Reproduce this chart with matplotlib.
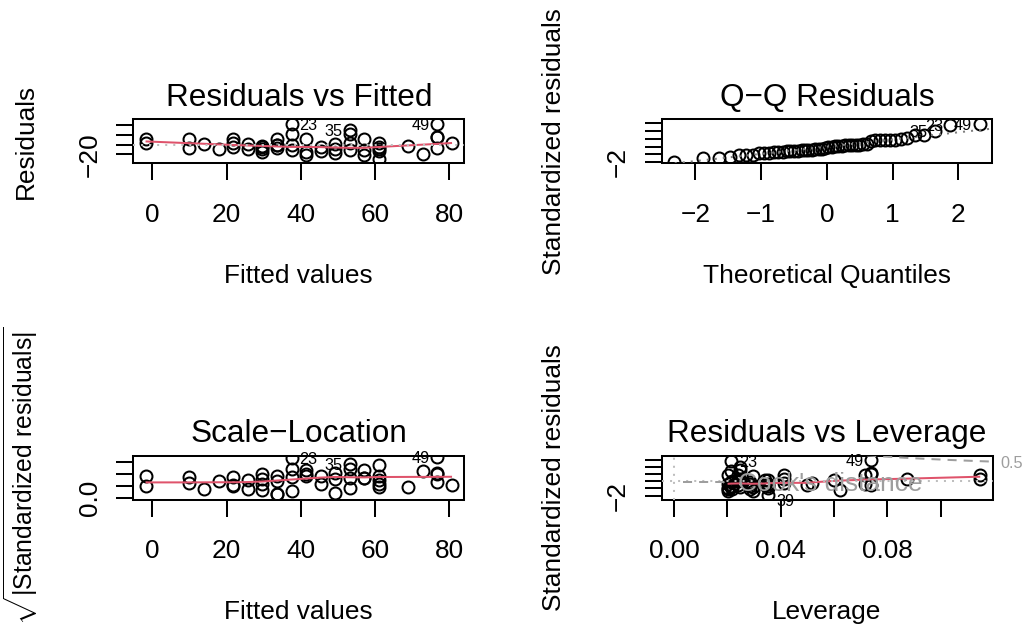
import numpy as np
import matplotlib
matplotlib.use("Agg")
import matplotlib.pyplot as plt
from matplotlib.transforms import blended_transform_factory, ScaledTranslation
from matplotlib.lines import Line2D
from statistics import NormalDist

# ---------------- data (R 'cars' data set, lm(dist ~ speed)) ----------------
speed = [4, 4, 7, 7, 8, 9, 10, 10, 10, 11, 11, 12, 12, 12, 12, 13, 13, 13, 13, 14,
         14, 14, 14, 15, 15, 15, 16, 16, 17, 17, 17, 18, 18, 18, 18, 19, 19, 19, 20, 20,
         20, 20, 20, 22, 23, 24, 24, 24, 24, 25]
dist = [2, 10, 4, 22, 16, 10, 18, 26, 34, 17, 28, 14, 20, 24, 28, 26, 34, 34, 46, 26,
        36, 60, 80, 20, 26, 54, 32, 40, 32, 40, 50, 42, 56, 76, 84, 36, 46, 68, 32, 48,
        52, 56, 64, 66, 54, 70, 92, 93, 120, 85]

titles = ["Residuals vs Fitted", "Q\u2212Q Residuals", "Scale\u2212Location", "Residuals vs Leverage"]
xlabels = ["Fitted values", "Theoretical Quantiles", "Fitted values", "Leverage"]
ylabels = ["Residuals", "Standardized residuals",
           r"$\sqrt{|\mathrm{Standardized\ residuals}|}$", "Standardized residuals"]

fitted_xticks = [0, 20, 40, 60, 80]
fitted_xlabels = ["0", "20", "40", "60", "80"]
qq_xticks = [-2, -1, 0, 1, 2]
qq_xlabels = ["\u22122", "\u22121", "0", "1", "2"]
lev_xticks = [0.0, 0.02, 0.04, 0.06, 0.08, 0.10]
lev_xlabels = ["0.00", "", "0.04", "", "0.08", ""]
resid_yticks = [-20, 0, 20, 40]
std_yticks = [-2, -1, 0, 1, 2, 3]
sl_yticks = [0.0, 0.5, 1.0, 1.5]
ytick_shown = ["\u221220", "\u22122", "0.0", "\u22122"]
cook_levels = [0.5, 1.0]
id_n = 3

# ---------------- model quantities ----------------
xs_ = np.array(speed, float)
yd_ = np.array(dist, float)
n = len(xs_)
X = np.column_stack([np.ones(n), xs_])
beta = np.linalg.lstsq(X, yd_, rcond=None)[0]
fitted = X @ beta
resid = yd_ - fitted
p = X.shape[1]
sigma = np.sqrt(np.sum(resid ** 2) / (n - p))
hii = np.diag(X @ np.linalg.inv(X.T @ X) @ X.T)
rstd = resid / (sigma * np.sqrt(1 - hii))
cook = rstd ** 2 * hii / (p * (1 - hii))
sqrtabs = np.sqrt(np.abs(rstd))
ids = np.arange(1, n + 1)

show_r = np.argsort(-np.abs(resid), kind="stable")[:id_n]
show_rs = np.argsort(-np.abs(rstd), kind="stable")[:id_n]
show_cook = np.argsort(-cook, kind="stable")[:id_n]

nd = NormalDist()
ppts = (np.arange(1, n + 1) - 0.5) / n
qtheo = np.array([nd.inv_cdf(v) for v in ppts])
ranks = np.argsort(np.argsort(rstd, kind="stable"), kind="stable")
qq_x = qtheo[ranks]


def r_lowess(x, y, f=2 / 3, nsteps=3):
    o = np.argsort(x, kind="stable")
    x = np.asarray(x, float)[o]
    y = np.asarray(y, float)[o]
    n_ = len(x)
    delta = 0.01 * (x[-1] - x[0])
    ns = max(2, min(n_, int(f * n_ + 1e-7)))
    ys = np.zeros(n_)
    rw = np.ones(n_)
    xr = x[-1] - x[0]

    def lowest(xs, nleft, nright, userw):
        h = max(xs - x[nleft], x[nright] - xs)
        h9, h1 = 0.999 * h, 0.001 * h
        w = np.zeros(n_)
        a = 0.0
        j = nleft
        while j < n_:
            r = abs(x[j] - xs)
            if r <= h9:
                w[j] = 1.0 if r <= h1 else (1 - (r / h) ** 3) ** 3
                if userw:
                    w[j] *= rw[j]
                a += w[j]
            elif x[j] > xs:
                break
            j += 1
        nrt = j - 1
        if a <= 0:
            return None
        sl = slice(nleft, nrt + 1)
        ww = w[sl] / a
        xx = x[sl]
        if h > 0:
            aa = np.sum(ww * xx)
            b = xs - aa
            c = np.sum(ww * (xx - aa) ** 2)
            if np.sqrt(c) > 0.001 * xr:
                b /= c
                ww = ww * (b * (xx - aa) + 1)
        return np.sum(ww * y[sl])

    it = 1
    while it <= nsteps + 1:
        nleft, nright, last, i = 0, ns - 1, -1, 0
        while True:
            if nright < n_ - 1:
                d1 = x[i] - x[nleft]
                d2 = x[nright + 1] - x[i]
                if d1 > d2:
                    nleft += 1
                    nright += 1
                    continue
            v = lowest(x[i], nleft, nright, it > 1)
            ys[i] = v if v is not None else y[i]
            if last < i - 1:
                denom = x[i] - x[last]
                for j in range(last + 1, i):
                    al = (x[j] - x[last]) / denom
                    ys[j] = al * ys[i] + (1 - al) * ys[last]
            last = i
            cut = x[last] + delta
            i = last + 1
            while i < n_:
                if x[i] > cut:
                    break
                if x[i] == x[last]:
                    ys[i] = ys[last]
                    last = i
                i += 1
            i = max(last + 1, i - 1)
            if last >= n_ - 1:
                break
        res = y - ys
        sc = np.mean(np.abs(res))
        if it > nsteps:
            break
        ar = np.sort(np.abs(res))
        m1 = n_ // 2
        if n_ % 2 == 0:
            cmad = 3 * (ar[m1] + ar[n_ - m1 - 1])
        else:
            cmad = 6 * ar[m1]
        if cmad < 1e-7 * sc:
            break
        c9, c1 = 0.999 * cmad, 0.001 * cmad
        r = np.abs(res)
        rw = np.where(r <= c1, 1.0, np.where(r <= c9, (1 - (r / cmad) ** 2) ** 2, 0.0))
        it += 1
    return x, ys


def ext(lo, hi, f):
    d = hi - lo
    return lo - f * d, hi + f * d


# ---------------- style ----------------
plt.rcParams["font.family"] = ["Liberation Sans", "DejaVu Sans"]
plt.rcParams["mathtext.fontset"] = "custom"
plt.rcParams["mathtext.rm"] = "Liberation Sans"
plt.rcParams["mathtext.it"] = "Liberation Sans:italic"
plt.rcParams["mathtext.bf"] = "Liberation Sans:bold"

RED = "#DF536B"
GRAY = "#BEBEBE"
COOK = "#9E9E9E"
LAB = 18.9
TITLE = 22.7
IDS = 11.7
LW = 1.45
MS = 8.6
DOT = (0, (1, 3))
DASH = (0, (4.5, 3.5))

W, H = 1027, 627
DPI = 100
fig = plt.figure(figsize=(W / DPI, H / DPI), dpi=DPI)
fig.patch.set_facecolor("white")


def add_ax(x0, y0, x1, y1):
    return fig.add_axes([x0 / W, 1 - y1 / H, (x1 - x0) / W, (y1 - y0) / H])


ax1 = add_ax(133.3, 119.3, 464.3, 163.3)
ax2 = add_ax(661.7, 119.3, 992.0, 163.3)
ax3 = add_ax(133.3, 455.7, 464.3, 499.6)
ax4 = add_ax(661.7, 455.7, 992.5, 499.6)
axes = [ax1, ax2, ax3, ax4]


def pts(ax, x, y):
    ax.plot(x, y, ls="none", marker="o", ms=MS, mfc="none", mec="black", mew=LW, zorder=2)


def smooth(ax, x, y):
    sx, sy = r_lowess(x, y)
    ax.plot(sx, sy, color=RED, lw=LW, zorder=3, solid_capstyle="butt")


def id_labels(ax, x, y, which, down=None):
    mid = (np.min(x) + np.max(x)) / 2
    for k in which:
        yy = y[k]
        dy = -IDS * 0.358 / 72
        if down is not None and yy < 0:
            dy -= down / DPI
        if x[k] > mid:
            off = ScaledTranslation(-5.5 / 72, dy, fig.dpi_scale_trans)
            ha = "right"
        else:
            off = ScaledTranslation(5.5 / 72, dy, fig.dpi_scale_trans)
            ha = "left"
        ax.text(x[k], yy, str(ids[k]), fontsize=IDS, ha=ha, va="baseline",
                transform=ax.transData + off, clip_on=False, zorder=6)


# Panel 1: Residuals vs Fitted
pts(ax1, fitted, resid)
smooth(ax1, fitted, resid)
ax1.axhline(0, ls=DOT, color=GRAY, lw=LW, zorder=4)
id_labels(ax1, fitted, resid, show_r)
ax1.set_xlim(*ext(fitted.min(), fitted.max(), 0.04))
ax1.set_ylim(*ext(*ext(resid.min(), resid.max(), 0.08), 0.04))

# Panel 2: Q-Q
pts(ax2, qq_x, rstd)
q1, q3 = np.quantile(rstd, [0.25, 0.75])
t1, t3 = nd.inv_cdf(0.25), nd.inv_cdf(0.75)
slope = (q3 - q1) / (t3 - t1)
ax2.axline((t1, q1), slope=slope, ls=DOT, color="#7F7F7F", lw=LW, zorder=4)
id_labels(ax2, qq_x, rstd, show_rs)
ax2.set_xlim(*ext(qq_x.min(), qq_x.max(), 0.04))
ylo, yhi = rstd.min(), rstd.max()
yhi = yhi + (yhi - ylo) * 0.075
ax2.set_ylim(*ext(ylo, yhi, 0.04))

# Panel 3: Scale-Location
pts(ax3, fitted, sqrtabs)
smooth(ax3, fitted, sqrtabs)
id_labels(ax3, fitted, sqrtabs, show_rs)
ax3.set_xlim(*ext(fitted.min(), fitted.max(), 0.04))
ax3.set_ylim(*ext(0, sqrtabs.max(), 0.04))

# Panel 4: Residuals vs Leverage
pts(ax4, hii, rstd)
smooth(ax4, hii, rstd)
ax4.axhline(0, ls=DOT, color=GRAY, lw=LW, zorder=4)
ax4.axvline(0, ls=DOT, color=GRAY, lw=LW, zorder=4)
xl4 = ext(0, hii.max(), 0.04)
yl4 = ext(*ext(rstd.min(), rstd.max(), 0.08), 0.04)
ax4.set_xlim(*xl4)
ax4.set_ylim(*yl4)
hh = np.linspace(min(hii.min(), hii.max() / 100), xl4[1], 101)
for crit in cook_levels:
    clh = np.sqrt(crit * p * (1 - hh) / hh)
    ax4.plot(hh, clh, ls=DASH, color=COOK, lw=LW, zorder=4)
    ax4.plot(hh, -clh, ls=DASH, color=COOK, lw=LW, zorder=4)
id_labels(ax4, hii, rstd, show_cook, down=5)
leg = ax4.legend(handles=[Line2D([], [], ls=DASH, color=COOK, lw=LW)], labels=["Cook's distance"],
                 loc="lower left", bbox_to_anchor=(0.064, 0.08), borderaxespad=0, borderpad=0,
                 handlelength=1.55, handletextpad=0.55, frameon=False, fontsize=LAB,
                 labelcolor=COOK)
leg.set_zorder(7)
xmax = min(0.99, xl4[1])
ymult = np.sqrt(p * (1 - xmax) / xmax)
aty = np.concatenate([-np.sqrt(cook_levels)[::-1] * ymult, np.sqrt(cook_levels) * ymult])
atl = [str(v) for v in cook_levels[::-1]] + [str(v) for v in cook_levels]
tr4 = blended_transform_factory(ax4.transAxes, ax4.transData) + ScaledTranslation(8 / DPI, 0, fig.dpi_scale_trans)
for yv, lab in zip(aty, atl):
    if yl4[0] <= yv <= yl4[1]:
        ax4.text(1, yv, lab, transform=tr4, ha="left", va="center_baseline", fontsize=IDS,
                 color=COOK, clip_on=False)

# ---------------- axes decoration ----------------
xt = [(fitted_xticks, fitted_xlabels), (qq_xticks, qq_xlabels), (fitted_xticks, fitted_xlabels),
      (lev_xticks, lev_xlabels)]
yt = [resid_yticks, std_yticks, sl_yticks, std_yticks]

for i, ax in enumerate(axes):
    for s in ax.spines.values():
        s.set_linewidth(LW)
    ax.set_xticks(xt[i][0])
    ax.set_xticklabels(xt[i][1])
    ax.set_yticks(yt[i])
    ax.tick_params(axis="both", direction="out", length=12, width=LW, labelsize=LAB)
    ax.tick_params(axis="x", pad=16.4)
    ax.tick_params(axis="y", labelleft=False)
    trY = blended_transform_factory(ax.transAxes, ax.transData) + ScaledTranslation(-36.7 / DPI, 0, fig.dpi_scale_trans)
    ax.text(0, yt[i][0], ytick_shown[i], transform=trY, rotation=90, rotation_mode="anchor",
            ha="center", va="baseline", fontsize=LAB, clip_on=False)
    ax.set_title(titles[i], fontsize=TITLE, pad=9.6)

# axis labels
xlab_pos = [(298.8, 283.3), (826.8, 283.3), (298.8, 619.3), (827.0, 619.3)]
ylab_pos = [(32.7, 141.3), (560.8, 141.3), (32.5, 475.5), (560.8, 477.6)]
ylab_size = [LAB, LAB, 17.8, LAB]
for i in range(4):
    fx, fy = xlab_pos[i]
    fig.text(fx / W, 1 - fy / H, xlabels[i], ha="center", va="baseline", fontsize=LAB)
    gx, gy = ylab_pos[i]
    fig.text(gx / W, 1 - gy / H, ylabels[i], ha="center", va="baseline", fontsize=ylab_size[i],
             rotation=90, rotation_mode="anchor")

fig.savefig("out.png", dpi=DPI, facecolor="white")
